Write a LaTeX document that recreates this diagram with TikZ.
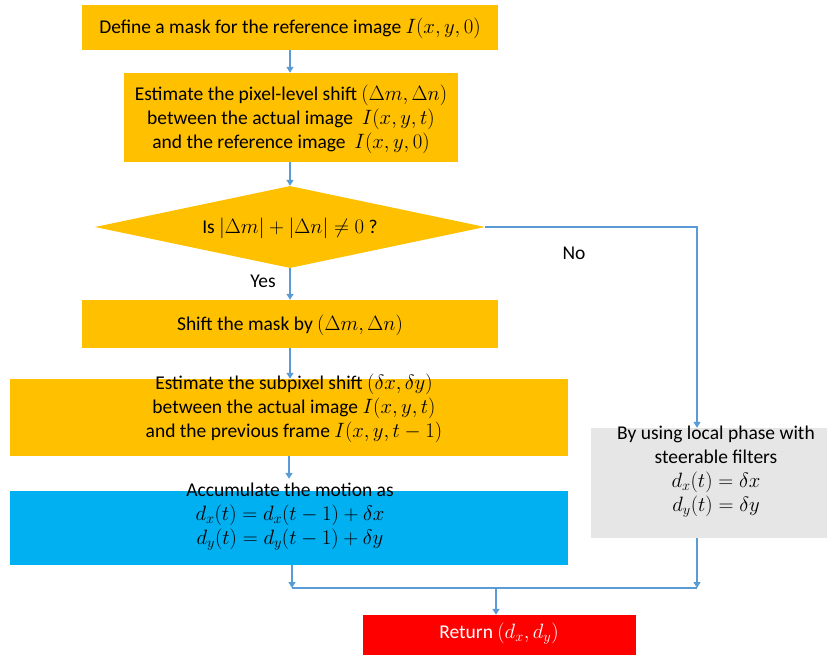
\documentclass[tikz,border=0pt]{standalone}
\usepackage{fontspec}
\setmainfont{Carlito}
\usetikzlibrary{arrows.meta,shapes.geometric}
\definecolor{cOrange}{HTML}{FFC000}
\definecolor{cBlue}{HTML}{00B0F0}
\definecolor{cGray}{HTML}{E7E6E6}
\definecolor{cRed}{HTML}{FF0000}
\definecolor{cLine}{HTML}{5B9BD5}
\begin{document}
\begin{tikzpicture}[x=1pt,y=-1pt,
  every node/.style={font=\fontsize{19.5}{24}\selectfont},
  obox/.style={fill=cOrange, inner sep=0pt},
  bbox/.style={fill=cBlue, inner sep=0pt},
  gbox/.style={fill=cGray, inner sep=0pt},
  rbox/.style={fill=cRed, inner sep=0pt},
  txt/.style={align=center, inner sep=0pt},
  conn/.style={draw=cLine, line width=1.8pt},
  arr/.style={conn, -{Triangle[width=7pt,length=6pt]}}]
\useasboundingbox (0,0) rectangle (828,655);
% boxes
\node[obox, minimum width=416pt, minimum height=45pt] (b1) at (290,27.5) {};
\node[obox, minimum width=334pt, minimum height=89pt] (b2) at (291,117.5) {};
\node[diamond, fill=cOrange, inner sep=0pt, minimum width=390pt, minimum height=82pt] (dia) at (290,227) {};
\node[obox, minimum width=416pt, minimum height=48pt] (b3) at (290,324) {};
\node[obox, minimum width=558pt, minimum height=77pt] (b4) at (289,417.5) {};
\node[bbox, minimum width=558pt, minimum height=74pt] (b5) at (289,528) {};
\node[gbox, minimum width=236pt, minimum height=110pt] (gray) at (709,483) {};
\node[rbox, minimum width=273pt, minimum height=42pt] (red) at (499.5,636) {};
% texts
\node[txt] (t1) at (290,28) {Define a mask for the reference image $I(x,y,0)$};
\node[txt] (t2) at (291,119) {Estimate the pixel-level shift $(\Delta m,\Delta n)$\\ between the actual image\ \ $I(x,y,t)$\\ and the reference image\ \ $I(x,y,0)$};
\node[txt] (td) at (290,228) {Is $|\Delta m|+|\Delta n|\neq 0$ ?};
\node[txt] (t3) at (290,325) {Shift the mask by $(\Delta m,\Delta n)$};
\node[txt] (t4) at (294,408) {Estimate the subpixel shift $(\delta x,\delta y)$\\ between the actual image $I(x,y,t)$\\ and the previous frame $I(x,y,t-1)$};
\node[txt] (t5) at (290,517) {Accumulate the motion as\\ $d_x(t)=d_x(t-1)+\delta x$\\ $d_y(t)=d_y(t-1)+\delta y$};
\node[txt] (tg) at (716,472) {By using local phase with\\ steerable filters\\ $d_x(t)=\delta x$\\ $d_y(t)=\delta y$};
\node[txt, text=white] (tr) at (499,634) {Return $(d_x,d_y)$};
\node[txt] (yes) at (263,281) {Yes};
\node[txt] (no) at (574,253) {No};
% connectors
\draw[arr] (b1.south) -- (b1.south |- b2.north);
\draw[arr] (dia.north |- b2.south) -- (dia.north);
\draw[arr] (dia.south) -- (dia.south |- b3.north);
\draw[arr] (b3.south) -- (b3.south |- b4.north);
\draw[arr, shorten >=12pt] (b4.south) -- (b4.south |- b5.north);
\coordinate (gtop) at ([xshift=-12pt]gray.north);
\coordinate (gbot) at ([xshift=-12pt]gray.south);
\draw[arr] (dia.east) -| (gtop);
\coordinate (m) at (496,588);
\draw[arr] ([xshift=3pt]b5.south) -- ([xshift=3pt]b5.south |- m);
\draw[arr] (gbot) -- (gbot |- m);
\draw[conn] ([xshift=3pt]b5.south |- m) -- (gbot |- m);
\draw[arr] (m) -- (m |- red.north);
\end{tikzpicture}
\end{document}
